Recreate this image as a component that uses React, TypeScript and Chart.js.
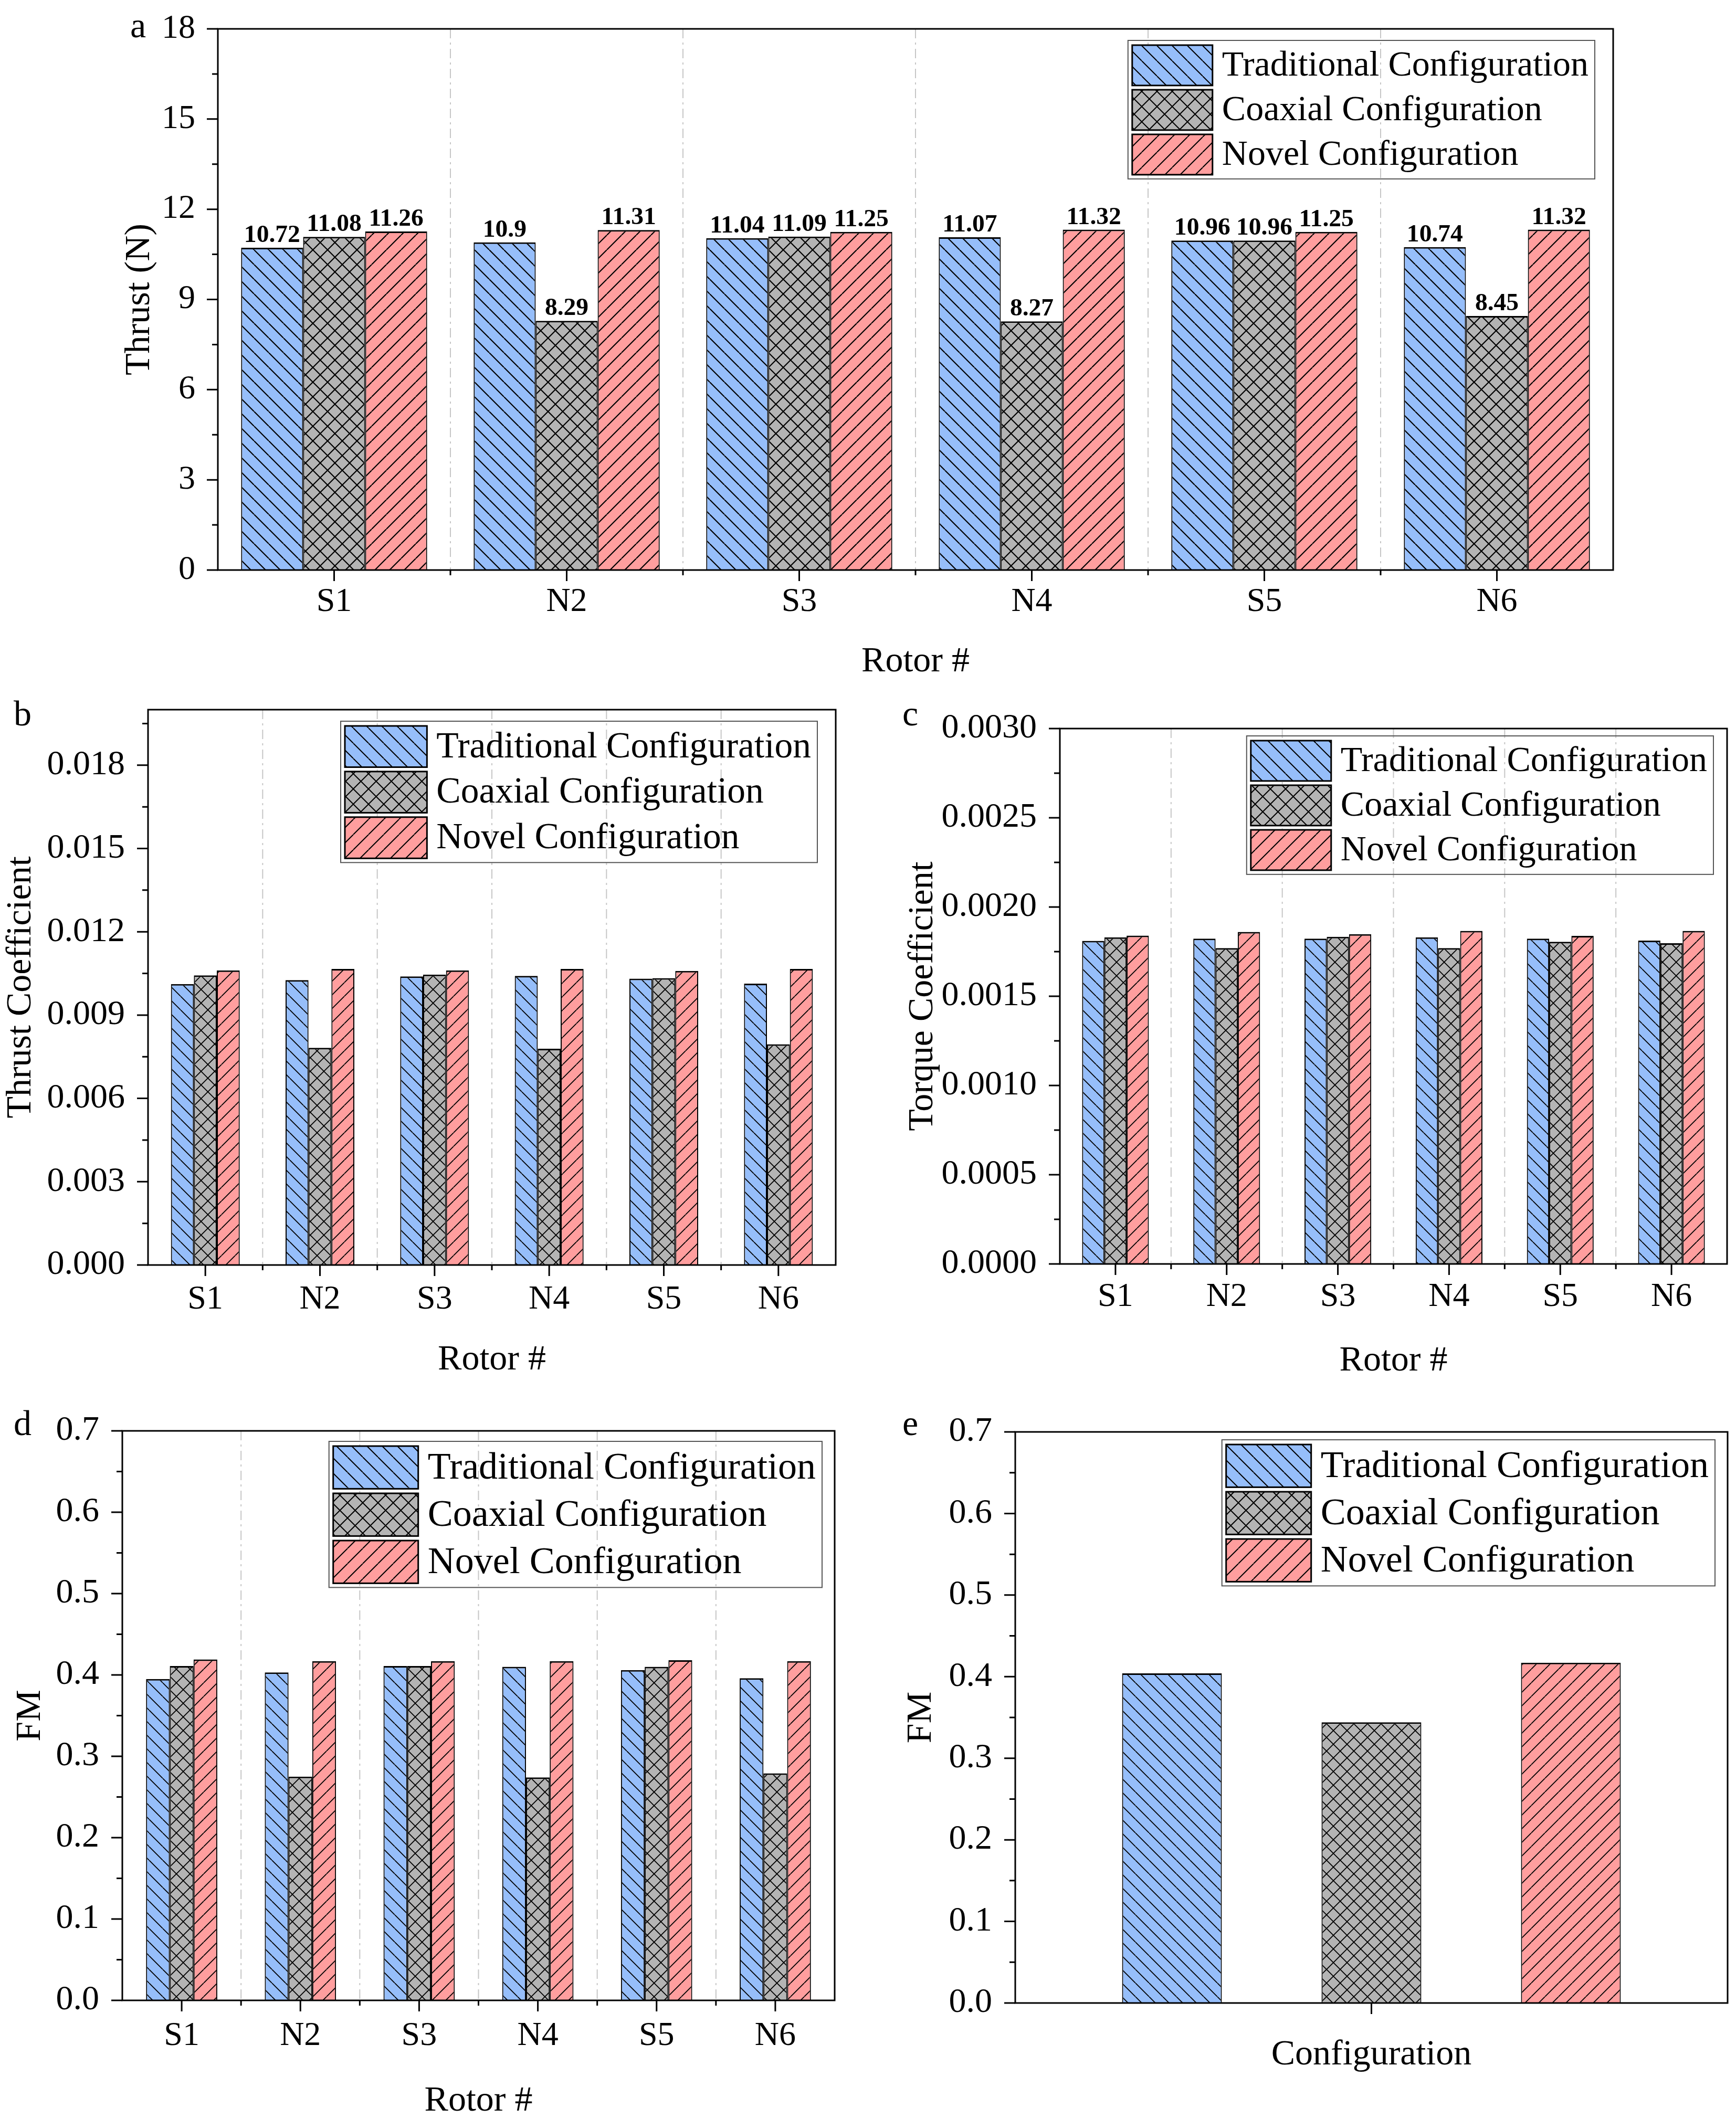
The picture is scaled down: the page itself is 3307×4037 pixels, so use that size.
import { useEffect, useRef } from "react";
import { Chart, registerables } from "chart.js";

Chart.register(...registerables);

const SERIF = "'Liberation Serif', 'Times New Roman', serif";
const INK = "#000000";

// series shared by every panel
const seriesNames = ["Traditional Configuration", "Coaxial Configuration", "Novel Configuration"];
const seriesFills = ["#96befa", "#b4b4b4", "#ff9e9e"];
const seriesHatch = ["back", "cross", "fwd"];

const rotors = ["S1", "N2", "S3", "N4", "S5", "N6"];

// a: thrust (N)
const thrustTraditional = [10.72, 10.9, 11.04, 11.07, 10.96, 10.74];
const thrustCoaxial = [11.08, 8.29, 11.09, 8.27, 10.96, 8.45];
const thrustNovel = [11.26, 11.31, 11.25, 11.32, 11.25, 11.32];
const thrustTicks = [0, 3, 6, 9, 12, 15, 18];

// b: thrust coefficient
const ctTraditional = [0.01012, 0.01026, 0.01039, 0.01041, 0.01031, 0.01013];
const ctCoaxial = [0.01043, 0.00782, 0.01046, 0.00779, 0.01033, 0.00795];
const ctNovel = [0.01061, 0.01066, 0.01061, 0.01066, 0.01059, 0.01066];
const ctTicks = [0, 0.003, 0.006, 0.009, 0.012, 0.015, 0.018];

// c: torque coefficient
const cqTraditional = [0.00181, 0.001823, 0.001823, 0.00183, 0.001823, 0.001812];
const cqCoaxial = [0.00183, 0.00177, 0.001833, 0.00177, 0.001805, 0.001797];
const cqNovel = [0.00184, 0.00186, 0.001848, 0.001866, 0.001838, 0.001866];
const cqTicks = [0, 0.0005, 0.001, 0.0015, 0.002, 0.0025, 0.003];

// d: figure of merit per rotor
const fmTraditional = [0.395, 0.403, 0.411, 0.41, 0.406, 0.396];
const fmCoaxial = [0.411, 0.275, 0.411, 0.274, 0.41, 0.279];
const fmNovel = [0.419, 0.417, 0.417, 0.417, 0.418, 0.417];
const fmTicks = [0, 0.1, 0.2, 0.3, 0.4, 0.5, 0.6, 0.7];

// e: figure of merit per configuration
const configLabels = [""];
const fmAvgTraditional = [0.404];
const fmAvgCoaxial = [0.344];
const fmAvgNovel = [0.417];

type Panel = {
  letter: string;
  letterAt: [number, number];
  box: [number, number, number, number];
  area: [number, number, number, number];
  labels: string[];
  series: number[][];
  ticks: number[];
  max: number;
  digits: number;
  yTitle: string;
  xTitle: string;
  catPct: number;
  barPct: number;
  yFont: number;
  yPad: number;
  xPad: number;
  values: boolean;
  legendFont: number;
  legendRight: number;
  legendTop: number;
};

const panels: Panel[] = [
  {
    letter: "a", letterAt: [248, 14],
    box: [232, 0, 2868, 1295], area: [415, 55, 3073, 1086],
    labels: rotors, series: [thrustTraditional, thrustCoaxial, thrustNovel],
    ticks: thrustTicks, max: 18, digits: 0,
    yTitle: "Thrust (N)", xTitle: "Rotor #",
    catPct: 0.8, barPct: 1, yFont: 64, yPad: 35, xPad: 15,
    values: true, legendFont: 68, legendRight: 35, legendTop: 22,
  },
  {
    letter: "b", letterAt: [26, 1325],
    box: [6, 1300, 1614, 1325], area: [282, 1352, 1592, 2410],
    labels: rotors, series: [ctTraditional, ctCoaxial, ctNovel],
    ticks: ctTicks, max: 0.02, digits: 3,
    yTitle: "Thrust Coefficient", xTitle: "Rotor #",
    catPct: 0.6, barPct: 1, yFont: 66, yPad: 36, xPad: 20,
    values: false, legendFont: 69.5, legendRight: 35, legendTop: 22,
  },
  {
    letter: "c", letterAt: [1719, 1325],
    box: [1724, 1300, 1581, 1327], area: [2019, 1388, 3290, 2408],
    labels: rotors, series: [cqTraditional, cqCoaxial, cqNovel],
    ticks: cqTicks, max: 0.003, digits: 4,
    yTitle: "Torque Coefficient", xTitle: "Rotor #",
    catPct: 0.6, barPct: 1, yFont: 66, yPad: 36, xPad: 17,
    values: false, legendFont: 68, legendRight: 26, legendTop: 14,
  },
  {
    letter: "d", letterAt: [26, 2677],
    box: [24, 2660, 1591, 1377], area: [233, 2726, 1590, 3811],
    labels: rotors, series: [fmTraditional, fmCoaxial, fmNovel],
    ticks: fmTicks, max: 0.7, digits: 1,
    yTitle: "FM", xTitle: "Rotor #",
    catPct: 0.6, barPct: 1, yFont: 66, yPad: 36, xPad: 22,
    values: false, legendFont: 72, legendRight: 24, legendTop: 20,
  },
  {
    letter: "e", letterAt: [1719, 2677],
    box: [1721, 2660, 1584, 1289], area: [1934, 2728, 3291, 3816],
    labels: configLabels, series: [fmAvgTraditional, fmAvgCoaxial, fmAvgNovel],
    ticks: fmTicks, max: 0.7, digits: 1,
    yTitle: "FM", xTitle: "Configuration",
    catPct: 0.84, barPct: 0.5, yFont: 66, yPad: 36, xPad: 20,
    values: false, legendFont: 72, legendRight: 24, legendTop: 15,
  },
];

function makeHatch(fill: string, kind: string, size: number, lw: number) {
  const c = document.createElement("canvas");
  c.width = size;
  c.height = size;
  const g = c.getContext("2d")!;
  g.fillStyle = fill;
  g.fillRect(0, 0, size, size);
  g.strokeStyle = INK;
  g.lineWidth = lw;
  g.beginPath();
  for (const dx of [-size, 0, size]) {
    if (kind !== "fwd") {
      g.moveTo(dx, 0);
      g.lineTo(dx + size, size);
    }
    if (kind !== "back") {
      g.moveTo(dx, size);
      g.lineTo(dx + size, 0);
    }
  }
  g.stroke();
  return g.createPattern(c, "repeat")!;
}

function decor(p: Panel) {
  return {
    id: "decor",
    beforeDatasetsDraw(chart: any) {
      const { ctx, chartArea: a, scales } = chart;
      const x = scales.x;
      ctx.save();
      ctx.strokeStyle = "#c6c6c6";
      ctx.lineWidth = 2;
      ctx.setLineDash([18, 8, 4, 8]);
      for (let i = 1; i < p.labels.length; i++) {
        const px = (x.getPixelForTick(i - 1) + x.getPixelForTick(i)) / 2;
        ctx.beginPath();
        ctx.moveTo(px, a.top);
        ctx.lineTo(px, a.bottom);
        ctx.stroke();
      }
      ctx.restore();
    },
    afterDatasetsDraw(chart: any) {
      const { ctx, chartArea: a, scales } = chart;
      const x = scales.x;
      const y = scales.y;
      ctx.save();
      ctx.strokeStyle = INK;
      ctx.lineWidth = 3;
      ctx.strokeRect(a.left, a.top, a.right - a.left, a.bottom - a.top);

      // y ticks, major and minor, pointing out
      ctx.beginPath();
      for (const v of p.ticks) {
        const py = y.getPixelForValue(v);
        ctx.moveTo(a.left - 21, py);
        ctx.lineTo(a.left, py);
      }
      const step = p.ticks[1] - p.ticks[0];
      for (let v = p.ticks[0] + step / 2; v < p.max + step * 1e-6; v += step) {
        const py = y.getPixelForValue(v);
        ctx.moveTo(a.left - 11, py);
        ctx.lineTo(a.left, py);
      }
      // x ticks at categories and group boundaries
      for (let i = 0; i < p.labels.length; i++) {
        const px = x.getPixelForTick(i);
        ctx.moveTo(px, a.bottom);
        ctx.lineTo(px, a.bottom + 21);
        if (i > 0) {
          const bx = (x.getPixelForTick(i - 1) + px) / 2;
          ctx.moveTo(bx, a.bottom);
          ctx.lineTo(bx, a.bottom + 10);
        }
      }
      ctx.stroke();

      if (p.values) {
        // condensed bold labels: fit "00.00" to ~107px wide, digits ~31px tall
        ctx.fillStyle = INK;
        ctx.font = `bold 46px ${SERIF}`;
        ctx.textAlign = "center";
        ctx.textBaseline = "alphabetic";
        const probe = ctx.measureText("00.00");
        const sx = 107 / probe.width;
        const asc = ctx.measureText("0").actualBoundingBoxAscent || 31;
        const sy = 31 / asc;
        p.series.forEach((vals, i) => {
          chart.getDatasetMeta(i).data.forEach((el: any, j: number) => {
            ctx.save();
            ctx.translate(el.x, el.y - 11);
            ctx.scale(sx, sy);
            ctx.fillText(String(vals[j]), 0, 0);
            ctx.restore();
          });
        });
      }

      // legend
      const f = p.legendFont;
      ctx.font = `${f}px ${SERIF}`;
      const tw = Math.max(...seriesNames.map((n) => ctx.measureText(n).width));
      const patchW = 2.25 * f;
      const patchH = 1.13 * f;
      const pitch = 1.25 * f;
      const gap = 18;
      const lw = 8 + patchW + gap + tw + 12;
      const lh = 9 + pitch * 2 + patchH + 8;
      const lx = a.right - p.legendRight - lw;
      const ly = a.top + p.legendTop;
      ctx.strokeStyle = "#555555";
      ctx.lineWidth = 2;
      ctx.strokeRect(lx, ly, lw, lh);
      seriesNames.forEach((name, i) => {
        const rx = lx + 8;
        const ry = ly + 9 + i * pitch;
        ctx.fillStyle = makeHatch(seriesFills[i], seriesHatch[i], 29, 2);
        ctx.fillRect(rx, ry, patchW, patchH);
        ctx.strokeStyle = INK;
        ctx.lineWidth = 3;
        ctx.strokeRect(rx, ry, patchW, patchH);
        ctx.fillStyle = INK;
        ctx.textAlign = "left";
        ctx.textBaseline = "middle";
        ctx.fillText(name, rx + patchW + gap, ry + patchH / 2 + 2);
      });
      ctx.restore();
    },
  };
}

function PanelChart({ p }: { p: Panel }) {
  const canvasRef = useRef<HTMLCanvasElement>(null);
  const [bx, by, bw, bh] = p.box;

  useEffect(() => {
    const el = canvasRef.current;
    if (!el) return;
    const [l, t, r, b] = p.area;
    const hatchSize = p.values ? 28 : 26;
    const chart = new Chart(el, {
      type: "bar",
      data: {
        labels: p.labels,
        datasets: p.series.map((d, i) => ({
          label: seriesNames[i],
          data: d,
          backgroundColor: makeHatch(seriesFills[i], seriesHatch[i], hatchSize, p.values ? 2.2 : 1.8),
          borderColor: INK,
          borderWidth: { top: 3, left: 2, right: 2, bottom: 0 },
          borderSkipped: false,
          categoryPercentage: p.catPct,
          barPercentage: p.barPct,
        })),
      },
      options: {
        responsive: false,
        animation: false,
        devicePixelRatio: 1,
        layout: { padding: { top: t - by, right: bx + bw - r, left: 0, bottom: 0 } },
        plugins: { legend: { display: false }, tooltip: { enabled: false } },
        scales: {
          x: {
            type: "category",
            offset: true,
            grid: { display: false },
            border: { display: false },
            ticks: {
              color: INK,
              font: { family: SERIF, size: 64 },
              padding: p.xPad,
              maxRotation: 0,
              autoSkip: false,
            },
            title: {
              display: true,
              text: p.xTitle,
              color: INK,
              font: { family: SERIF, size: 68, lineHeight: 1 },
              padding: 0,
            },
            afterFit: (s: any) => {
              s.height = by + bh - b;
              s.paddingLeft = 0;
              s.paddingRight = 0;
            },
          },
          y: {
            type: "linear",
            min: 0,
            max: p.max,
            grid: { display: false },
            border: { display: false },
            ticks: {
              color: INK,
              font: { family: SERIF, size: p.yFont },
              padding: p.yPad,
              callback: (v: any) => Number(v).toFixed(p.digits),
            },
            afterBuildTicks: (s: any) => {
              s.ticks = p.ticks.map((v) => ({ value: v }));
            },
            title: {
              display: true,
              text: p.yTitle,
              color: INK,
              font: { family: SERIF, size: 68, lineHeight: 1 },
              padding: 0,
            },
            afterFit: (s: any) => {
              s.width = l - bx;
              s.paddingTop = 0;
              s.paddingBottom = 0;
            },
          },
        },
      },
      plugins: [decor(p)],
    } as any);
    return () => chart.destroy();
  }, [p]);

  return (
    <canvas
      ref={canvasRef}
      width={bw}
      height={bh}
      style={{ position: "absolute", left: bx, top: by, width: bw, height: bh }}
    />
  );
}

export default function App() {
  return (
    <div
      style={{
        position: "absolute",
        left: 0,
        top: 0,
        width: 3307,
        height: 4037,
        background: "#ffffff",
        overflow: "hidden",
      }}
    >
      {panels.map((p) => (
        <PanelChart key={p.letter} p={p} />
      ))}
      {panels.map((p) => (
        <div
          key={"l" + p.letter}
          style={{
            position: "absolute",
            left: p.letterAt[0],
            top: p.letterAt[1],
            fontFamily: SERIF,
            fontSize: 68,
            lineHeight: "68px",
            color: INK,
          }}
        >
          {p.letter}
        </div>
      ))}
    </div>
  );
}
